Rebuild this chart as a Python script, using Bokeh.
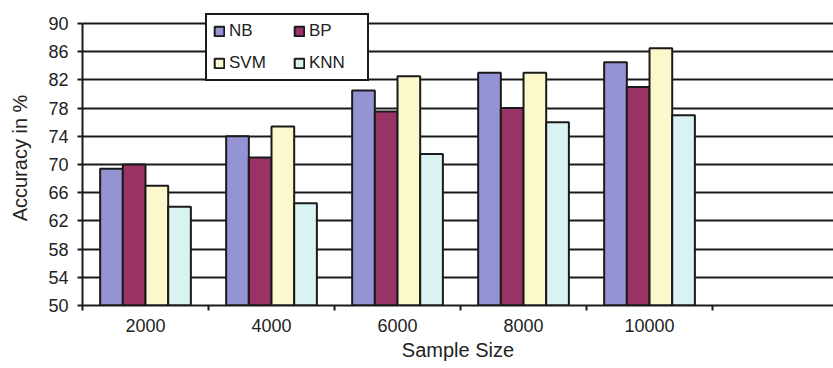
import numpy as np
from bokeh.plotting import figure
from bokeh.models import FixedTicker, Legend, LegendItem, Range1d, ColumnDataSource
from bokeh.embed import file_html
from bokeh.resources import INLINE

categories = ["2000", "4000", "6000", "8000", "10000"]
series = ["NB", "BP", "SVM", "KNN"]
nb = [69.4, 74.0, 80.5, 83.0, 84.5]
bp = [70.0, 71.0, 77.5, 78.0, 81.0]
svm = [67.0, 75.4, 82.5, 83.0, 86.5]
knn = [64.0, 64.5, 71.5, 76.0, 77.0]
y_ticks = [50, 54, 58, 62, 66, 70, 74, 78, 82, 86, 90]
colors = ["#9494d4", "#993366", "#fbf9cc", "#d9f3f3"]

FONT = "Liberation Sans"
TXT = "#222222"
LINE = "#1a1a1a"
n_slots = 5.96
bar_w = 0.18

p = figure(width=833, height=368, output_backend="svg", toolbar_location=None,
           x_range=Range1d(0, n_slots), y_range=Range1d(50, 91.84))
p.min_border_left = 82
p.min_border_right = 0
p.min_border_top = 10
p.min_border_bottom = 63
p.outline_line_color = None
p.background_fill_color = "white"

idx = np.arange(len(categories))
renderers = {}
for i, (name, vals) in enumerate(zip(series, [nb, bp, svm, knn])):
    xs = idx + 0.5 + (i - 1.5) * bar_w
    src = ColumnDataSource(dict(x=xs, top=vals))
    r = p.vbar(x="x", top="top", bottom=50, width=bar_w, source=src,
               fill_color=colors[i], line_color=LINE, line_width=2)
    renderers[name] = r

# x axis
p.xaxis.ticker = FixedTicker(ticks=list(idx + 0.5), minor_ticks=list(range(0, 7)))
p.xaxis.major_label_overrides = {float(i + 0.5): c for i, c in enumerate(categories)}
p.xaxis.major_tick_line_color = None
p.xaxis.major_tick_out = 0
p.xaxis.major_tick_in = 0
p.xaxis.minor_tick_line_color = LINE
p.xaxis.minor_tick_line_width = 2
p.xaxis.minor_tick_out = 5
p.xaxis.minor_tick_in = 0
p.xaxis.axis_line_color = LINE
p.xaxis.axis_line_width = 2
p.xaxis.axis_label = "Sample Size"
p.xaxis.axis_label_text_font = FONT
p.xaxis.axis_label_text_font_size = "20px"
p.xaxis.axis_label_text_font_style = "normal"
p.xaxis.axis_label_text_color = TXT
p.xaxis.axis_label_standoff = 4
p.xaxis.major_label_text_font = FONT
p.xaxis.major_label_text_font_size = "18px"
p.xaxis.major_label_text_color = TXT
p.xaxis.major_label_standoff = 8

# y axis
p.yaxis.ticker = FixedTicker(ticks=y_ticks)
p.yaxis.bounds = (50, 90)
p.yaxis.minor_tick_line_color = None
p.yaxis.major_tick_line_color = LINE
p.yaxis.major_tick_line_width = 2
p.yaxis.major_tick_out = 5
p.yaxis.major_tick_in = 0
p.yaxis.axis_line_color = LINE
p.yaxis.axis_line_width = 2
p.yaxis.axis_label = "Accuracy in %"
p.yaxis.axis_label_text_font = FONT
p.yaxis.axis_label_text_font_size = "20px"
p.yaxis.axis_label_text_font_style = "normal"
p.yaxis.axis_label_text_color = TXT
p.yaxis.axis_label_standoff = 14
p.yaxis.major_label_text_font = FONT
p.yaxis.major_label_text_font_size = "18px"
p.yaxis.major_label_text_color = TXT
p.yaxis.major_label_standoff = 9

p.xgrid.grid_line_color = None
p.ygrid.ticker = FixedTicker(ticks=y_ticks)
p.ygrid.grid_line_color = LINE
p.ygrid.grid_line_width = 2
p.ygrid.grid_line_alpha = 1.0

# column-major fill: first column NB, SVM; second column BP, KNN
legend_order = ["NB", "SVM", "BP", "KNN"]
legend = Legend(items=[LegendItem(label=n, renderers=[renderers[n]]) for n in legend_order],
                ncols=2, location=(123, 224))
legend.border_line_color = LINE
legend.border_line_width = 2
legend.border_line_alpha = 1.0
legend.background_fill_color = "white"
legend.background_fill_alpha = 1.0
legend.label_text_font = FONT
legend.label_text_font_size = "17px"
legend.label_text_color = TXT
legend.glyph_width = 12
legend.glyph_height = 12
legend.label_standoff = 4
legend.label_height = 14
legend.label_width = 52
legend.padding = 6
legend.spacing = 12
legend.margin = 0
p.add_layout(legend, "center")

open("out.html", "w").write(file_html(p, INLINE))
